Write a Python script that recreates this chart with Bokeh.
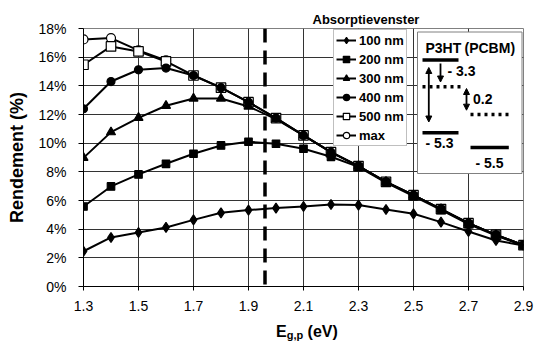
from bokeh.plotting import figure
from bokeh.models import (Legend, LegendItem, Label, Arrow, NormalHead,
                          BoxAnnotation, FixedTicker, Div)
from bokeh.layouts import column
from bokeh.embed import file_html
from bokeh.resources import INLINE

# ---------------- data ----------------
eg = [1.3, 1.4, 1.5, 1.6, 1.7, 1.8, 1.9, 2.0, 2.1, 2.2, 2.3, 2.4, 2.5, 2.6, 2.7, 2.8, 2.9]
r100 = [2.46, 3.42, 3.77, 4.12, 4.65, 5.14, 5.33, 5.47, 5.58, 5.72, 5.68, 5.37, 5.07, 4.49, 3.84, 3.21, 2.86]
r200 = [5.58, 6.98, 7.82, 8.56, 9.26, 9.84, 10.1, 9.96, 9.61, 9.05, 8.35, 7.25, 6.30, 5.35, 4.35, 3.55, 2.86]
r300 = [8.98, 10.77, 11.77, 12.61, 13.12, 13.12, 12.56, 11.68, 10.54, 9.37, 8.40, 7.30, 6.37, 5.40, 4.42, 3.60, 2.88]
r400 = [12.4, 14.3, 15.12, 15.24, 14.72, 13.87, 12.86, 11.75, 10.54, 9.37, 8.40, 7.30, 6.37, 5.40, 4.42, 3.60, 2.88]
r500 = [15.47, 16.75, 16.40, 15.70, 14.72, 13.87, 12.86, 11.75, 10.54, 9.37, 8.40, 7.30, 6.37, 5.40, 4.42, 3.60, 2.88]
eg_max = [1.3, 1.4, 1.5, 1.6]
r_max = [17.24, 17.33, 16.47, 15.77]

series_labels = ["100 nm", "200 nm", "300 nm", "400 nm", "500 nm", "max"]
x_ticks = [1.3, 1.5, 1.7, 1.9, 2.1, 2.3, 2.5, 2.7, 2.9]
y_ticks = [0, 2, 4, 6, 8, 10, 12, 14, 16, 18]
window_eg = 1.96          # absorption window boundary (eV)
window_title = "Absorptievenster"
x_label_main, x_label_sub, x_label_unit = "E", "g,p", "(eV)"
y_label = "Rendement (%)"

# energy-level inset texts
lvl_p3ht = "P3HT"
lvl_pcbm = "(PCBM)"
lvl_texts = ["- 3.3", "0.2", "- 5.3", "- 5.5"]

FONT = "Liberation Sans"
FL, FT, FW, FH = 83, 28, 440, 258   # frame left/top/width/height in page px
FB = 32                             # border below frame (axis ticks + labels)
TOTAL_W = FL + FW + 14

def X(px):   # page px -> data x
    return 1.3 + (px - FL) / (FW / 1.6)

def Y(py):   # page px -> data y
    return (FT + FH - py) / (FH / 18.0)

fig = figure(frame_width=FW, frame_height=FH, x_range=(1.3, 2.9), y_range=(0, 18),
             output_backend="svg", toolbar_location=None,
             min_border_left=FL, min_border_right=14, min_border_top=FT, min_border_bottom=FB)
fig.background_fill_color = "white"
fig.border_fill_color = "white"
fig.outline_line_color = "#808080"

# title of the dashed line (above the frame)
fig.title.text = window_title
fig.title.align = "left"
fig.title.offset = 229
fig.title.standoff = 3
fig.title.text_font = FONT
fig.title.text_font_style = "bold"
fig.title.text_font_size = "13px"
fig.title.text_color = "black"

# axes
fig.xaxis.ticker = FixedTicker(ticks=x_ticks)
fig.yaxis.ticker = FixedTicker(ticks=y_ticks)
fig.yaxis.major_label_overrides = {v: f"{v}%" for v in y_ticks}
for ax in (fig.xaxis[0], fig.yaxis[0]):
    ax.axis_line_color = "black"
    ax.axis_line_width = 1
    ax.major_tick_line_color = "black"
    ax.minor_tick_line_color = None
    ax.major_tick_in = 0
    ax.major_label_text_font = FONT
    ax.major_label_text_font_size = "14px"
    ax.major_label_text_color = "black"
fig.yaxis.major_tick_out = 5
fig.xaxis.major_tick_out = 4
fig.yaxis.major_label_standoff = 12
fig.xaxis.major_label_standoff = 10
fig.yaxis.axis_label = y_label
fig.yaxis.axis_label_text_font = FONT
fig.yaxis.axis_label_text_font_style = "bold"
fig.yaxis.axis_label_text_font_size = "18px"
fig.yaxis.axis_label_text_color = "black"
fig.yaxis.axis_label_standoff = 8

fig.xgrid.ticker = FixedTicker(ticks=x_ticks)
fig.ygrid.ticker = FixedTicker(ticks=y_ticks)
for g in (fig.xgrid[0], fig.ygrid[0]):
    g.grid_line_color = "#333333"
    g.grid_line_width = 1

# absorption window dashed line
fig.line([window_eg, window_eg], [18, 0], line_color="black", line_width=3.5, line_dash="14 8")

# series (open markers first so filled markers sit on top)
renderers = {}
specs = [
    ("max", eg_max, r_max, "circle", "white", 9),
    ("500 nm", eg, r500, "square", "white", 9.5),
    ("400 nm", eg, r400, "circle", "black", 8),
    ("300 nm", eg, r300, "triangle", "black", 9),
    ("200 nm", eg, r200, "square", "black", 7.5),
    ("100 nm", eg, r100, "diamond", "black", 10),
]
for name, xs, ys, marker, fill, size in specs:
    ln = fig.line(xs, ys, line_color="black", line_width=2)
    sc = fig.scatter(xs, ys, marker=marker, size=size, fill_color=fill,
                     line_color="black", line_width=1.2)
    renderers[name] = [ln, sc]

legend = Legend(items=[LegendItem(label=n, renderers=renderers[n]) for n in series_labels],
                location=(250, 140))
legend.label_text_font = FONT
legend.label_text_font_style = "bold"
legend.label_text_font_size = "13px"
legend.label_text_color = "black"
legend.glyph_width = 20
legend.glyph_height = 16
legend.label_height = 16
legend.label_standoff = 3
legend.spacing = 3
legend.padding = 2
legend.margin = 0
legend.border_line_color = "#808080"
legend.border_line_width = 1
legend.background_fill_alpha = 1
fig.add_layout(legend, "center")

# ---------------- energy-level inset ----------------
fig.add_layout(BoxAnnotation(left=X(417), right=X(521.5), top=Y(31.5), bottom=Y(173),
                             fill_color="white", fill_alpha=1, line_color="#808080",
                             line_width=1, line_alpha=1))

txt_kw = dict(text_font=FONT, text_font_style="bold", text_color="black",
              text_baseline="middle", text_font_size="14px")
fig.add_layout(Label(x=X(425), y=Y(47), text=lvl_p3ht, **txt_kw))
fig.add_layout(Label(x=X(464), y=Y(47), text=lvl_pcbm, **txt_kw))

def level(x0, x1, y, dash="solid"):
    fig.add_layout(Arrow(x_start=X(x0), y_start=Y(y), x_end=X(x1), y_end=Y(y),
                         start=None, end=None, line_color="black", line_width=3.5,
                         line_dash=dash))

level(422, 458, 59.5)
level(422, 460, 86.3, "3 4")
level(470, 508.3, 114, "3 4")
level(422, 458, 132.3)
level(470, 508.3, 147)

def arrow(x, y0, y1, both=False):
    head = lambda: NormalHead(size=6, fill_color="black", line_color="black", line_width=1)
    fig.add_layout(Arrow(x_start=X(x), y_start=Y(y0), x_end=X(x), y_end=Y(y1),
                         start=head() if both else None, end=head(),
                         line_color="black", line_width=1.8))

arrow(440, 63, 81.5)
arrow(428.3, 67, 121.5, both=True)
arrow(466, 88, 109.7, both=True)

fig.add_layout(Label(x=X(447), y=Y(70.5), text=lvl_texts[0], **txt_kw))
fig.add_layout(Label(x=X(472.5), y=Y(98), text=lvl_texts[1], **txt_kw))
fig.add_layout(Label(x=X(425), y=Y(142), text=lvl_texts[2], **txt_kw))
fig.add_layout(Label(x=X(475), y=Y(162.5), text=lvl_texts[3], **txt_kw))

# ---------------- x-axis label with subscript (below the figure) ----------------
xlabel_html = (
    f'<div style="position:relative;top:1px;padding-left:276px;padding-top:5px;'
    f'line-height:16px;white-space:nowrap;'
    f'font-family:\'{FONT}\';font-weight:bold;font-size:16px;color:black">'
    f'{x_label_main}<sub style="font-size:11px;line-height:0;vertical-align:-2px">{x_label_sub}</sub> '
    f'{x_label_unit}</div>'
)
xlabel = Div(text=xlabel_html, width=TOTAL_W, height=23, margin=(0, 0, 0, 0))

p = column(fig, xlabel, spacing=0)

open("out.html", "w").write(file_html(p, INLINE))
